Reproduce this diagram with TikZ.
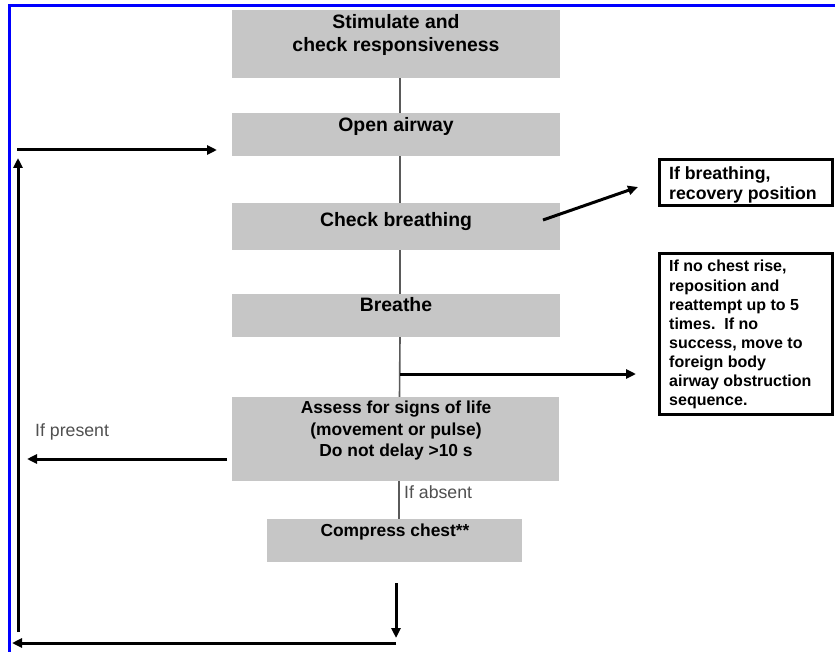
\documentclass[tikz,border=0pt]{standalone}
\usepackage{fontspec}
\setmainfont{Liberation Sans}
\usetikzlibrary{arrows.meta}
\definecolor{boxgray}{RGB}{198,198,198}
\definecolor{linkgray}{RGB}{90,90,90}
\definecolor{labelgray}{RGB}{80,80,80}
\definecolor{frameblue}{RGB}{0,0,255}
\begin{document}
\begin{tikzpicture}[x=1pt,y=-1pt,
  graybox/.style={rectangle, fill=boxgray, draw=none, inner sep=0pt},
  notebox/.style={rectangle, fill=white, draw=black, line width=3pt, inner sep=0pt},
  bigtxt/.style={anchor=base, inner sep=0pt, font=\bfseries\fontsize{19.4}{23}\selectfont},
  midtxt/.style={anchor=base, inner sep=0pt, font=\bfseries\fontsize{17.4}{21}\selectfont},
  notetxt/.style={anchor=base west, inner sep=0pt, font=\bfseries\fontsize{17.7}{20}\selectfont},
  smalltxt/.style={anchor=base west, inner sep=0pt, font=\bfseries\fontsize{16}{19}\selectfont},
  cond/.style={anchor=base west, inner sep=0pt, text=labelgray, font=\fontsize{17.7}{20}\selectfont},
  link/.style={draw=linkgray, line width=1.6pt},
  arr/.style={draw=black, line width=3pt, -{Triangle[length=10pt,width=9pt]}}
]
\useasboundingbox (0,0) rectangle (835,652);
\fill[white] (0,0) rectangle (835,652);
% blue frame (top and left)
\draw[frameblue, line width=3pt] (9.5,652) -- (9.5,5.5) -- (835,5.5);

% gray boxes
\node[graybox, minimum width=328pt, minimum height=68pt] (b1) at (396,44) {};
\node[graybox, minimum width=328pt, minimum height=43pt] (b2) at (396,134.5) {};
\node[graybox, minimum width=328pt, minimum height=47pt] (b3) at (396,226.5) {};
\node[graybox, minimum width=328pt, minimum height=43pt] (b4) at (396,315.5) {};
\node[graybox, minimum width=327pt, minimum height=84pt] (b5) at (395.5,439) {};
\node[graybox, minimum width=255pt, minimum height=43pt] (b6) at (394.5,540.5) {};

% texts in gray boxes
\node[bigtxt] (t1a) at (396,29) {Stimulate and};
\node[bigtxt] (t1b) at (396,52) {check responsiveness};
\node[bigtxt] (t2) at (396,132) {Open airway};
\node[bigtxt] (t3) at (396,227) {Check breathing};
\node[bigtxt] (t4) at (396,312) {Breathe};
\node[midtxt] (t5a) at (396,413) {Assess for signs of life};
\node[midtxt] (t5b) at (396,435) {(movement or pulse)};
\node[midtxt] (t5c) at (396,456) {Do not delay >10 s};
\node[midtxt] (t6) at (395,536) {Compress chest**};

% gray connectors
\draw[link] ([xshift=4pt]b1.south) -- ([xshift=4pt]b2.north);
\draw[link] ([xshift=4pt]b2.south) -- ([xshift=4pt]b3.north);
\draw[link] ([xshift=4pt]b3.south) -- ([xshift=4pt]b4.north);
\draw[link] ([xshift=4pt]b4.south) -- ([xshift=4pt]b5.north);
\draw[link] ([xshift=3.5pt]b5.south) -- ([xshift=4.5pt]b6.north);

% note boxes
\node[notebox, minimum width=173pt, minimum height=46pt] (n1) at (745.5,182.5) {};
\node[notebox, minimum width=173pt, minimum height=160pt] (n2) at (745.5,334) {};
\node[notetxt] (n1a) at (669,180) {If breathing,};
\node[notetxt] (n1b) at (669,200) {recovery position};
\node[smalltxt] (n2a) at (669,272) {If no chest rise,};
\node[smalltxt] (n2b) at (669,291) {reposition and};
\node[smalltxt] (n2c) at (669,310) {reattempt up to 5};
\node[smalltxt] (n2d) at (669,329) {times.\ \ If no};
\node[smalltxt] (n2e) at (669,348) {success, move to};
\node[smalltxt] (n2f) at (669,367) {foreign body};
\node[smalltxt] (n2g) at (669,386) {airway obstruction};
\node[smalltxt] (n2h) at (669,405) {sequence.};

% condition labels
\node[cond] (lp) at (35,436) {If present};
\node[cond] (la) at (404,498) {If absent};

% arrow coordinates
\coordinate (brs) at (543,220);
\coordinate (bre) at (638,187);
\coordinate (j) at (400,374);
\coordinate (je) at (636,374);
\coordinate (ps) at (227,459);
\coordinate (pe) at (27,459);
\coordinate (ds) at (396,583);
\coordinate (de) at (396,638);
\coordinate (bs) at (396,643);
\coordinate (be) at (12,643);
\coordinate (ls) at (18,632);
\coordinate (le) at (18,158);
\coordinate (ts) at (17,150);
\coordinate (te) at (217,150);

% black arrows
\draw[arr] (brs) -- (bre);
\draw[arr] (j) -- (je);
\draw[arr] (ps) -- (pe);
\draw[arr] (ds) -- (de);
\draw[arr] (bs) -- (be);
\draw[arr] (ls) -- (le);
\draw[arr] (ts) -- (te);
\end{tikzpicture}
\end{document}
